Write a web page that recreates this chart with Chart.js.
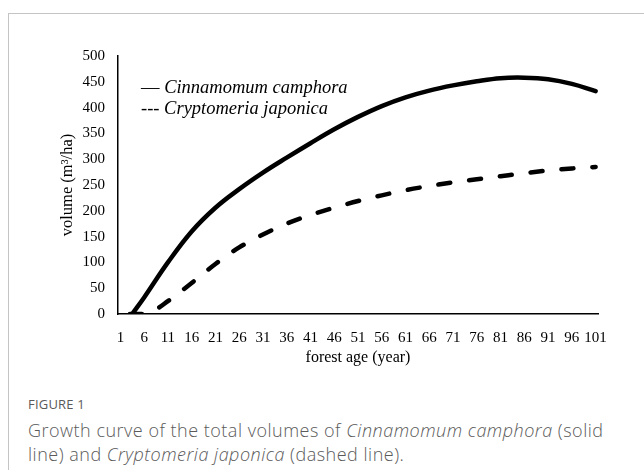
<!DOCTYPE html>
<html>
<head>
<meta charset="utf-8">
<script src="https://cdn.jsdelivr.net/npm/chart.js@4/dist/chart.umd.min.js"></script>
<style>
  body { margin: 0; background: #fff; width: 644px; height: 470px; overflow: hidden; position: relative; }
  .frame { position: absolute; left: 8px; top: 13px; right: -2px; bottom: -2px; border-top: 1px solid #c4c4c4; border-left: 1px solid #c4c4c4; }
  .wrap { position: absolute; left: 0; top: 0; width: 644px; height: 380px; }
  .caption { position: absolute; left: 28px; top: 395px; width: 600px; font-family: "Open Sans", sans-serif; color: #5a5a5a; }
  .caption .fig { font-size: 13px; letter-spacing: 0.2px; margin-bottom: 5px; }
  .caption .txt { font-size: 18px; line-height: 24px; font-weight: 300; letter-spacing: 0.5px; }
</style>
</head>
<body>
<div class="frame"></div>
<div class="wrap"><canvas id="c"></canvas></div>
<div class="caption">
  <div class="fig">FIGURE 1</div>
  <div class="txt">Growth curve of the total volumes of <i>Cinnamomum camphora</i> (solid line) and <i>Cryptomeria japonica</i> (dashed line).</div>
</div>
<script>
// tick labels on the x axis (forest age, years)
const tickAges = [1, 6, 11, 16, 21, 26, 31, 36, 41, 46, 51, 56, 61, 66, 71, 76, 81, 86, 91, 96, 101];

// Cinnamomum camphora (solid)
const camphoraAges = [3.5, 6, 11, 16, 21, 26, 31, 36, 41, 46, 51, 56, 61, 66, 71, 76, 81, 86, 91, 96, 101];
const camphoraVolume = [0, 32, 100, 160, 206, 242, 274, 303, 331, 358, 382, 403, 420, 433, 443, 451, 457, 458, 455, 446, 432];

// Cryptomeria japonica (dashed)
const japonicaAges = [3, 6, 8, 11, 16, 21, 26, 31, 36, 41, 46, 51, 56, 61, 66, 71, 76, 81, 86, 91, 96, 101];
const japonicaVolume = [0, 0, 6, 25, 60, 97, 129, 154, 175, 192, 206, 219, 230, 240, 248, 255, 261, 267, 273, 278, 282, 285];

const legendLines = [
  { mark: '\u2014 ', name: 'Cinnamomum camphora' },
  { mark: '--- ', name: 'Cryptomeria japonica' }
];

const serif = '"Liberation Serif", "Times New Roman", serif';

const textLegend = {
  id: 'textLegend',
  afterDraw(chart) {
    const ctx = chart.ctx;
    const x0 = chart.chartArea.left + 23;
    ctx.save();
    ctx.fillStyle = '#000';
    ctx.textBaseline = 'middle';
    legendLines.forEach((l, i) => {
      const y = chart.chartArea.top + 32 + i * 21.5;
      ctx.font = '18.5px ' + serif;
      ctx.fillText(l.mark, x0, y);
      const w = ctx.measureText(l.mark).width;
      ctx.font = 'italic 18.5px ' + serif;
      ctx.fillText(l.name, x0 + w, y);
    });
    ctx.restore();
  }
};

const toPoints = (xs, ys) => xs.map((x, i) => ({ x: x, y: ys[i] }));

new Chart(document.getElementById('c'), {
  type: 'line',
  data: {
    datasets: [
      {
        label: 'Cinnamomum camphora',
        data: toPoints(camphoraAges, camphoraVolume),
        borderColor: '#000',
        borderWidth: 4.5,
        pointRadius: 0,
        tension: 0.4,
        borderCapStyle: 'round'
      },
      {
        label: 'Cryptomeria japonica',
        data: toPoints(japonicaAges, japonicaVolume),
        borderColor: '#000',
        borderWidth: 4.5,
        borderDash: [12, 19],
        borderCapStyle: 'round',
        pointRadius: 0,
        cubicInterpolationMode: 'monotone'
      }
    ]
  },
  options: {
    responsive: true,
    maintainAspectRatio: false,
    animation: false,
    layout: { padding: { left: 58, top: 56, right: 46, bottom: 13 } },
    plugins: { legend: { display: false }, tooltip: { enabled: false } },
    scales: {
      x: {
        type: 'linear',
        min: 0.5,
        max: 101.5,
        afterBuildTicks: (s) => { s.ticks = tickAges.map(v => ({ value: v })); },
        afterFit: (s) => { s.height = 53; },
        ticks: { color: '#000', font: { family: serif, size: 15 }, padding: 15, maxRotation: 0, autoSkip: false },
        grid: { display: false, drawTicks: false },
        border: { color: '#000', width: 1.5 },
        title: { display: true, text: 'forest age (year)', color: '#000', font: { family: serif, size: 16 }, padding: 0 }
      },
      y: {
        min: 0,
        max: 500,
        afterFit: (s) => { s.width = 60; },
        ticks: { stepSize: 50, color: '#000', font: { family: serif, size: 15 }, padding: 13 },
        grid: { display: false, drawTicks: false },
        border: { color: '#000', width: 1.5 },
        title: { display: true, text: 'volume (m\u00b3/ha)', color: '#000', font: { family: serif, size: 16.5 }, padding: 0 }
      }
    }
  },
  plugins: [textLegend]
});
</script>
</body>
</html>
